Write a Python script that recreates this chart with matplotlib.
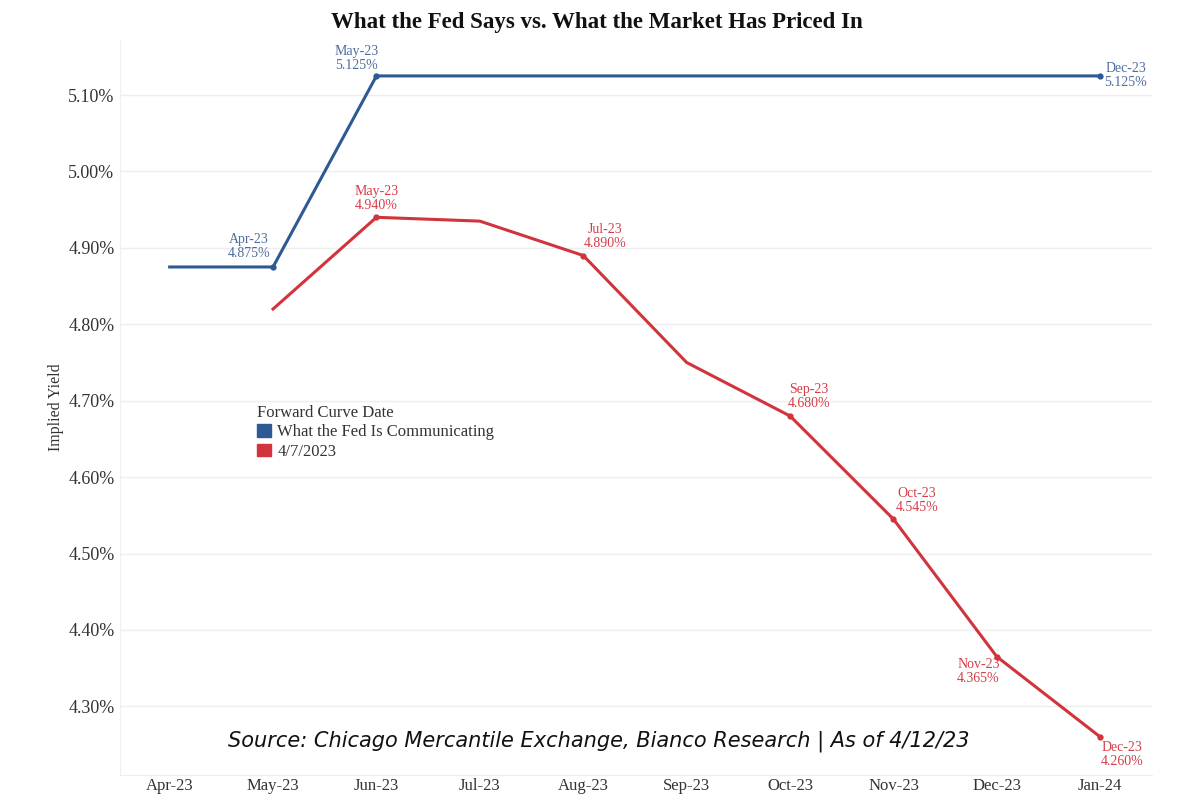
import matplotlib.pyplot as plt
from matplotlib.patches import Patch
from matplotlib import ticker

# x axis months
months = ["Apr-23", "May-23", "Jun-23", "Jul-23", "Aug-23", "Sep-23",
          "Oct-23", "Nov-23", "Dec-23", "Jan-24"]

# what the Fed is communicating
fed_months = ["Apr-23", "May-23", "Jun-23", "Jul-23", "Aug-23", "Sep-23",
              "Oct-23", "Nov-23", "Dec-23", "Jan-24"]
fed_vals = [4.875, 4.875, 5.125, 5.125, 5.125, 5.125, 5.125, 5.125, 5.125, 5.125]

# market forward curve 4/7/2023
mkt_months = ["May-23", "Jun-23", "Jul-23", "Aug-23", "Sep-23",
              "Oct-23", "Nov-23", "Dec-23", "Jan-24"]
mkt_vals = [4.82, 4.94, 4.935, 4.89, 4.75, 4.68, 4.545, 4.365, 4.26]

# point labels (month of meeting)
fed_labels = {"May-23": "Apr-23", "Jun-23": "May-23", "Jan-24": "Dec-23"}
mkt_labels = {"Jun-23": "May-23", "Aug-23": "Jul-23", "Oct-23": "Sep-23",
              "Nov-23": "Oct-23", "Dec-23": "Nov-23", "Jan-24": "Dec-23"}

blue = "#2d5a92"
red = "#d1343c"
blue_txt = "#4d6d9c"
red_txt = "#d43d48"
serif = ["Liberation Serif", "DejaVu Serif"]

fig = plt.figure(figsize=(12, 8), dpi=100)
ax = fig.add_axes([0.10, 0.031, 0.86, 0.919])

fx = [months.index(m) for m in fed_months]
mx = [months.index(m) for m in mkt_months]
ax.plot(fx, fed_vals, color=blue, lw=2.2, zorder=3)
ax.plot(mx, mkt_vals, color=red, lw=2.2, zorder=3)

# label offsets in points: dx, dy, ha, va
fed_off = {"May-23": (-2, 5, "right", "bottom"),
           "Jun-23": (1.5, 3, "right", "bottom"),
           "Jan-24": (3, 0, "left", "center")}
mkt_off = {"Jun-23": (0, 4, "center", "bottom"),
           "Aug-23": (0, 4, "left", "bottom"),
           "Oct-23": (-2, 4, "left", "bottom"),
           "Nov-23": (1.5, 4, "left", "bottom"),
           "Dec-23": (2, -1, "right", "top"),
           "Jan-24": (0, -3, "left", "top")}

for m, lab in fed_labels.items():
    i = months.index(m)
    v = fed_vals[fed_months.index(m)]
    ax.plot(i, v, "o", color=blue, ms=3.5, zorder=4)
    dx, dy, ha, va = fed_off[m]
    ax.annotate(f"{lab}\n{v:.3f}%", (i, v), xytext=(dx, dy),
                textcoords="offset points", ha=ha, va=va, color=blue_txt,
                fontsize=10, family=serif, linespacing=1.1,
                multialignment="center")
for m, lab in mkt_labels.items():
    i = months.index(m)
    v = mkt_vals[mkt_months.index(m)]
    ax.plot(i, v, "o", color=red, ms=3.5, zorder=4)
    dx, dy, ha, va = mkt_off[m]
    ax.annotate(f"{lab}\n{v:.3f}%", (i, v), xytext=(dx, dy),
                textcoords="offset points", ha=ha, va=va, color=red_txt,
                fontsize=10, family=serif, linespacing=1.1,
                multialignment="center")

ax.set_xlim(-0.48, 9.5)
ax.set_ylim(4.21, 5.172)
ax.set_xticks(range(len(months)))
ax.set_xticklabels(months, family=serif, fontsize=12, color="#333333")
ax.set_yticks([4.3, 4.4, 4.5, 4.6, 4.7, 4.8, 4.9, 5.0, 5.1])
ax.yaxis.set_major_formatter(ticker.FuncFormatter(lambda v, p: f"{v:.2f}%"))
for t in ax.get_yticklabels():
    t.set_family(serif)
    t.set_fontsize(13)
    t.set_color("#333333")
ax.tick_params(axis="y", length=0, pad=4)
ax.tick_params(axis="x", length=0, pad=2)
ax.grid(axis="y", color="#eeeeee", lw=1)
for s in ["top", "right"]:
    ax.spines[s].set_visible(False)
ax.spines["left"].set_color("#f0f0f0")
ax.spines["bottom"].set_color("#eeeeee")
ax.set_ylabel("Implied Yield", family=serif, fontsize=11.5, color="#333333", labelpad=3)

handles = [Patch(color=blue, label="What the Fed Is Communicating"),
           Patch(color=red, label="4/7/2023")]
leg = ax.legend(handles=handles, title="Forward Curve Date", loc="upper left",
                bbox_to_anchor=(0.125, 0.515), frameon=False,
                prop={"family": serif, "size": 12},
                handlelength=0.8, handleheight=0.8, handletextpad=0.4,
                labelspacing=0.2, borderpad=0)
leg._legend_box.align = "left"
leg.get_title().set_family(serif)
leg.get_title().set_fontsize(12)
leg.get_title().set_color("#333333")
for t in leg.get_texts():
    t.set_color("#333333")

fig.text(0.497, 0.972, "What the Fed Says vs. What the Market Has Priced In",
         ha="center", va="center", family=serif, fontsize=16.5, fontweight="bold",
         color="#111111")
fig.text(0.499, 0.073, "Source: Chicago Mercantile Exchange, Bianco Research | As of 4/12/23",
         ha="center", va="center", family=["DejaVu Sans"],
         style="italic", fontsize=15, color="#111111")

fig.savefig("out.png", dpi=100)
